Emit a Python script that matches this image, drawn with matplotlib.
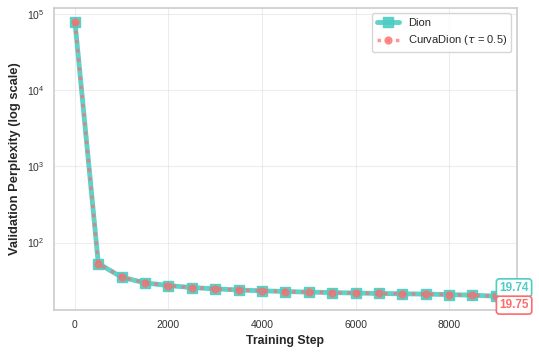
import matplotlib.pyplot as plt
import numpy as np
import seaborn as sns

steps = np.arange(0, 9001, 500)
dion = [80000, 53, 35, 29.5, 27.2, 25.6, 24.6, 23.8, 23.2, 22.7, 22.3, 22.0, 21.7, 21.4, 21.2, 21.0, 20.7, 20.3, 19.74]
curva = [80000, 53, 35, 29.5, 27.2, 25.6, 24.6, 23.8, 23.2, 22.7, 22.3, 22.0, 21.7, 21.4, 21.2, 21.0, 20.7, 20.3, 19.75]

sns.set_style("whitegrid")
plt.rcParams['font.family'] = ['Arial', 'Liberation Sans', 'DejaVu Sans']

teal = "#4ECDC4"
red = "#FF6B6B"

fig, ax = plt.subplots(figsize=(5.39, 3.57), dpi=100)
ax.plot(steps, dion, color=teal, lw=3.5, marker="s", ms=7, alpha=0.9, label="Dion")
ax.plot(steps, curva, color=red, lw=2.5, ls=":", marker="o", ms=5, alpha=0.7,
        label=r"CurvaDion ($\tau$ = 0.5)")
ax.set_yscale("log")
ax.set_xlabel("Training Step", fontsize=8.8, fontweight="bold")
ax.set_ylabel("Validation Perplexity (log scale)", fontsize=9.3, fontweight="bold")
ax.tick_params(labelsize=7.5, colors="#333333")
ax.grid(True, alpha=0.35)
for s in ax.spines.values():
    s.set_color("#cccccc")
    s.set_linewidth(1.2)

ax.annotate(f"{dion[-1]:.2f}", (steps[-1], dion[-1]), xytext=(2.5, 6), textcoords="offset points",
            fontsize=8.5, fontweight="bold", color=teal, va="center", ha="left",
            bbox=dict(boxstyle="round,pad=0.25", fc="white", ec=teal, lw=1.2))
ax.annotate(f"{curva[-1]:.2f}", (steps[-1], curva[-1]), xytext=(2.5, -6.5), textcoords="offset points",
            fontsize=8.5, fontweight="bold", color=red, va="center", ha="left",
            bbox=dict(boxstyle="round,pad=0.25", fc="white", ec=red, lw=1.2))

ax.legend(fontsize=8, loc="upper right", frameon=True)
fig.subplots_adjust(left=0.1, right=0.959, top=0.978, bottom=0.132)
fig.savefig("out.png")
